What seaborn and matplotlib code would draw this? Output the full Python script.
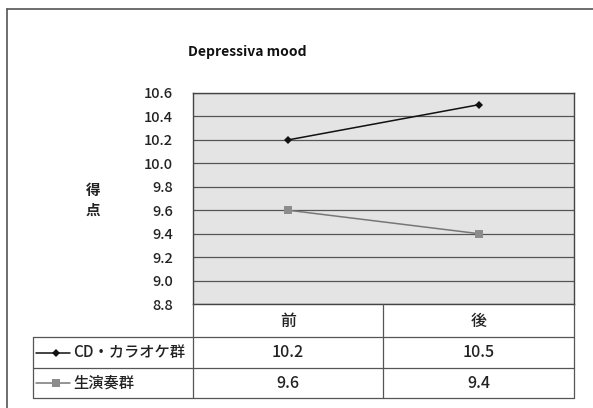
import matplotlib
matplotlib.use("Agg")
import matplotlib.pyplot as plt
from matplotlib.lines import Line2D
import seaborn as sns
import pandas as pd

# Data
phases = ["前", "後"]
group_names = ["CD・カラオケ群", "生演奏群"]
cd_karaoke = [10.2, 10.5]
live_music = [9.6, 9.4]
y_ticks = [8.8, 9.0, 9.2, 9.4, 9.6, 9.8, 10.0, 10.2, 10.4, 10.6]
title = "Depressiva mood"
y_label = "得\n点"

sns.set_theme(style="white")
plt.rcParams["font.family"] = ["Noto Sans CJK JP", "DejaVu Sans"]

df = pd.DataFrame({
    "phase": phases * 2,
    "group": [group_names[0]] * 2 + [group_names[1]] * 2,
    "score": cd_karaoke + live_music,
})

W, H = 593, 408
fig = plt.figure(figsize=(W / 100, H / 100), dpi=100)
fig.patch.set_facecolor("white")

def fx(px):
    return px / W

def fy(py):
    return 1 - py / H

# plot area in pixel layout
L, R, T, B = 193, 574, 93, 304
ax = fig.add_axes([fx(L), fy(B), fx(R - L), (B - T) / H])
ax.set_facecolor("#e4e4e4")

colors = {group_names[0]: "#111111", group_names[1]: "#777777"}
marker_colors = {group_names[0]: "#111111", group_names[1]: "#8c8c8c"}
markers = {group_names[0]: "D", group_names[1]: "s"}
marker_sizes = {group_names[0]: 4.0, group_names[1]: 5.5}
sns.lineplot(data=df, x="phase", y="score", hue="group", style="group",
             palette=colors, markers=markers, dashes=False, ax=ax,
             linewidth=1.1, markersize=4.5, markeredgewidth=0, legend=False)
for line, name in zip(ax.get_lines(), group_names):
    line.set_markerfacecolor(marker_colors[name])
    line.set_markersize(marker_sizes[name])

ax.set_xlim(-0.5, 1.5)
ax.set_ylim(y_ticks[0], y_ticks[-1])
ax.set_yticks(y_ticks)
ax.set_yticklabels([f"{v:.1f}" for v in y_ticks], fontsize=10.5,
                   color="#222222", fontweight="medium")
ax.set_xticks([])
ax.set_xlabel("")
ax.set_ylabel("")
ax.tick_params(axis="y", length=0, pad=14.5)
for yv in y_ticks:
    ax.axhline(yv, color="#555555", lw=0.9, zorder=0.5)
for s in ax.spines.values():
    s.set_visible(True)
    s.set_color("#444444")
    s.set_linewidth(1.0)

# title and y-label
fig.text(fx(247), fy(52), title, ha="center", va="center",
         fontsize=10, fontweight="bold", color="#111111")
fig.text(fx(93), fy(200), y_label, ha="center", va="center",
         fontsize=10.5, fontweight="bold", color="#222222", linespacing=1.35)

# outer frame (top and left edges)
fig.add_artist(Line2D([fx(7), fx(7)], [fy(9), fy(408)], color="#555555", lw=1.2))
fig.add_artist(Line2D([fx(7), fx(593)], [fy(9), fy(9)], color="#555555", lw=1.2))

# data table below the plot
TL = 33
col_edges = [L, 383, R]
row_edges = [B, 337, 368, 398]
tc = "#555555"

def hline(x0, x1, y):
    fig.add_artist(Line2D([fx(x0), fx(x1)], [fy(y), fy(y)], color=tc, lw=0.9))

def vline(x, y0, y1):
    fig.add_artist(Line2D([fx(x), fx(x)], [fy(y0), fy(y1)], color=tc, lw=0.9))

for x in col_edges:
    vline(x, row_edges[0], row_edges[-1])
vline(TL, row_edges[1], row_edges[-1])
for y in row_edges[1:]:
    hline(TL, R, y)

cell_fs = 11.5
for j, ph in enumerate(phases):
    cx = (col_edges[j] + col_edges[j + 1]) / 2
    fig.text(fx(cx), fy((row_edges[0] + row_edges[1]) / 2 + 1), ph,
             ha="center", va="center", fontsize=cell_fs, color="#222222",
             fontweight="medium")

series = [cd_karaoke, live_music]
for i, (name, vals) in enumerate(zip(group_names, series)):
    cy = (row_edges[i + 1] + row_edges[i + 2]) / 2
    fig.add_artist(Line2D([fx(36), fx(70)], [fy(cy), fy(cy)],
                          color=colors[name], lw=1.1))
    fig.add_artist(Line2D([fx(56)], [fy(cy)], lw=0, marker=markers[name],
                          markerfacecolor=marker_colors[name],
                          markersize=marker_sizes[name], markeredgewidth=0))
    fig.text(fx(73), fy(cy), name, ha="left", va="center",
             fontsize=11, color="#222222", fontweight="medium")
    for j, v in enumerate(vals):
        cx = (col_edges[j] + col_edges[j + 1]) / 2
        fig.text(fx(cx), fy(cy), f"{v:.1f}", ha="center", va="center",
                 fontsize=cell_fs, color="#222222", fontweight="medium")

fig.savefig("out.png", dpi=100, facecolor="white")
